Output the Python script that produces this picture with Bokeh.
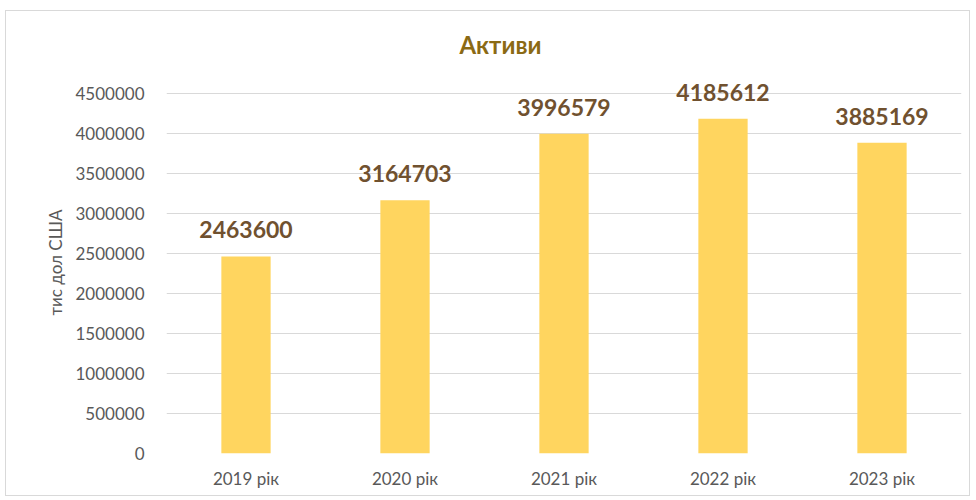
from bokeh.plotting import figure
from bokeh.models import ColumnDataSource, LabelSet, SingleIntervalTicker, NumeralTickFormatter
from bokeh.core.properties import value
from bokeh.embed import file_html
from bokeh.resources import INLINE

# Total assets by year, thousand US dollars
years = ["2019 рік", "2020 рік", "2021 рік", "2022 рік", "2023 рік"]
assets = [2463600, 3164703, 3996579, 4185612, 3885169]

source = ColumnDataSource(data=dict(
    year=years,
    assets=assets,
    label=[str(v) for v in assets],
))

FONT = "Lato"

# headroom above the top gridline so the value labels stay visible
p = figure(
    x_range=years,
    y_range=(0, 4775000),
    width=965,
    height=486,
    output_backend="svg",
    toolbar_location=None,
    min_border_left=160,
    min_border_right=10,
    min_border_top=60,
    min_border_bottom=44,
    title="Активи",
)
p.styles = {"margin-left": "5px", "margin-top": "10px", "border": "1px solid #d9d9d9"}

p.vbar(x="year", top="assets", width=0.31, source=source,
       fill_color="#FFD55F", line_color=None)

labels = LabelSet(x="year", y="assets", text="label", source=source,
                  text_align="center", text_baseline="bottom", y_offset=18,
                  text_font=value(FONT), text_font_size="23px", text_font_style="bold",
                  text_color="#70512F")
p.add_layout(labels)

# Title
p.title.align = "left"
p.title.text_font = FONT
p.title.text_font_size = "24px"
p.title.text_font_style = "bold"
p.title.text_color = "#8B6A14"
p.title.offset = 293
p.title.standoff = 26
p.title_location = "above"

# Axes
p.yaxis.ticker = SingleIntervalTicker(interval=500000)
p.yaxis.formatter = NumeralTickFormatter(format="0")
p.yaxis.axis_label = "тис дол США"
p.yaxis.axis_label_text_font = FONT
p.yaxis.axis_label_text_font_size = "17px"
p.yaxis.axis_label_text_font_style = "normal"
p.yaxis.axis_label_text_color = "#595959"
p.yaxis.axis_label_standoff = 6
for ax in (p.xaxis, p.yaxis):
    ax.axis_line_color = None
    ax.major_tick_line_color = None
    ax.minor_tick_line_color = None
    ax.major_label_text_font = FONT
    ax.major_label_text_font_size = "17px"
    ax.major_label_text_color = "#595959"
p.yaxis.major_label_standoff = 16
p.xaxis.major_label_standoff = 8

# Grid and frame
p.xgrid.grid_line_color = None
p.ygrid.grid_line_color = "#d9d9d9"
p.outline_line_color = None
p.background_fill_color = "white"
p.border_fill_color = "white"

open("out.html", "w").write(file_html(p, INLINE))
